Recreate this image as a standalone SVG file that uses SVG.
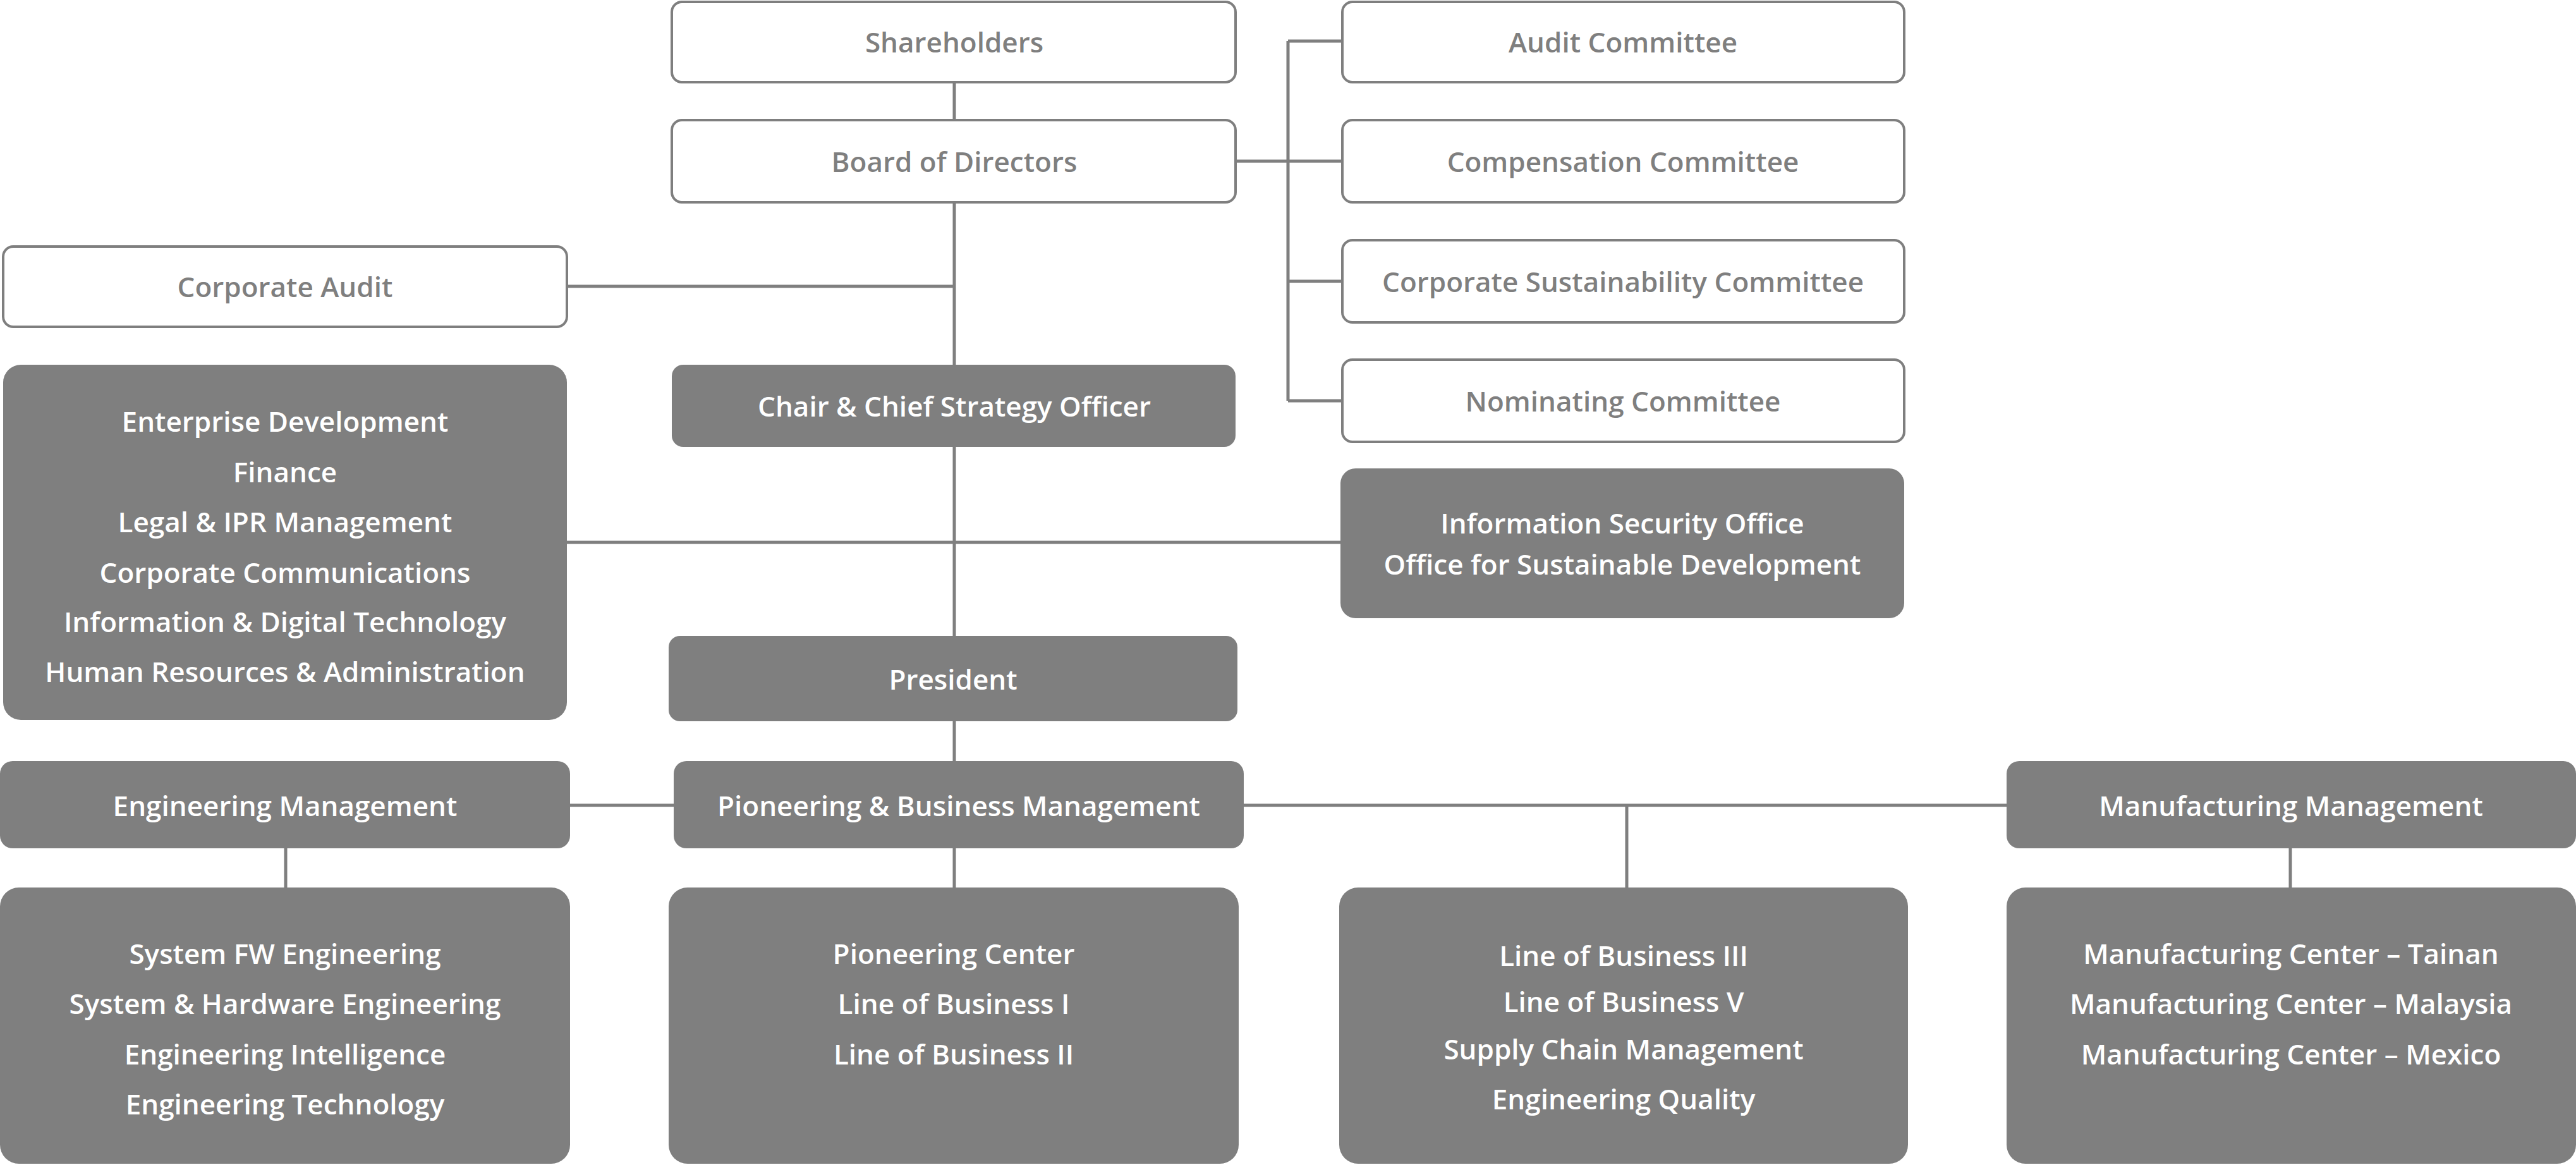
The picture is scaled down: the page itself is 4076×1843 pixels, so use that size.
<svg xmlns="http://www.w3.org/2000/svg" width="4076" height="1843" viewBox="0 0 4076 1843">
<style>
.w{fill:#fff;stroke:#7f7f7f;stroke-width:4}
.g{fill:#7f7f7f;stroke:none}
text{font-family:"Open Sans","Liberation Sans",sans-serif;font-weight:600;font-size:44px;text-anchor:middle;dominant-baseline:central}
.tw{fill:#7f7f7f}
.tg{fill:#fff}
.c{stroke:#7f7f7f;stroke-width:5;fill:none}
</style>
<rect width="4076" height="1843" fill="#fff"/>
<g id="connectors">
<path class="c" d="M1510 130V190M1510 320V577M897 453H1510M1510 707V1006M897 858H2121M1955 255H2038M2038 65V634M2038 65H2124M2038 255H2124M2038 445H2124M2038 634H2124M1510 1141V1204M902 1274H1066M1968 1274H3175M452 1342V1404M1510 1342V1404M2574 1274V1404M3624 1342V1404"/>
</g>
<g id="shareholders"><rect class="w" x="1063" y="3" width="892" height="127" rx="16"/><text class="tw" x="1510" y="66">Shareholders</text></g>
<g id="board"><rect class="w" x="1063" y="190" width="892" height="130" rx="16"/><text class="tw" x="1510" y="255">Board of Directors</text></g>
<g id="audit-committee"><rect class="w" x="2124" y="3" width="889" height="127" rx="16"/><text class="tw" x="2568" y="66">Audit Committee</text></g>
<g id="comp-committee"><rect class="w" x="2124" y="190" width="889" height="130" rx="16"/><text class="tw" x="2568" y="255">Compensation Committee</text></g>
<g id="csc"><rect class="w" x="2124" y="380" width="889" height="130" rx="16"/><text class="tw" x="2568" y="445">Corporate Sustainability Committee</text></g>
<g id="nominating"><rect class="w" x="2124" y="569" width="889" height="130" rx="16"/><text class="tw" x="2568" y="634">Nominating Committee</text></g>
<g id="corporate-audit"><rect class="w" x="5" y="390" width="892" height="127" rx="16"/><text class="tw" x="451" y="453">Corporate Audit</text></g>
<g id="chair"><rect class="g" x="1063" y="577" width="892" height="130" rx="18"/><text class="tg" x="1510" y="642">Chair &amp; Chief Strategy Officer</text></g>
<g id="functions"><rect class="g" x="5" y="577" width="892" height="562" rx="28"/>
<text class="tg" x="451" y="666">Enterprise Development</text>
<text class="tg" x="451" y="746">Finance</text>
<text class="tg" x="451" y="825">Legal &amp; IPR Management</text>
<text class="tg" x="451" y="905">Corporate Communications</text>
<text class="tg" x="451" y="983">Information &amp; Digital Technology</text>
<text class="tg" x="451" y="1062">Human Resources &amp; Administration</text></g>
<g id="infosec"><rect class="g" x="2121" y="741" width="892" height="237" rx="24"/>
<text class="tg" x="2567" y="827">Information Security Office</text>
<text class="tg" x="2567" y="892">Office for Sustainable Development</text></g>
<g id="president"><rect class="g" x="1058" y="1006" width="900" height="135" rx="18"/><text class="tg" x="1508" y="1074">President</text></g>
<g id="eng-mgmt"><rect class="g" x="0" y="1204" width="902" height="138" rx="20"/><text class="tg" x="451" y="1274">Engineering Management</text></g>
<g id="pio-mgmt"><rect class="g" x="1066" y="1204" width="902" height="138" rx="20"/><text class="tg" x="1517" y="1274">Pioneering &amp; Business Management</text></g>
<g id="mfg-mgmt"><rect class="g" x="3175" y="1204" width="901" height="138" rx="20"/><text class="tg" x="3625" y="1274">Manufacturing Management</text></g>
<g id="eng-units"><rect class="g" x="0" y="1404" width="902" height="437" rx="30"/>
<text class="tg" x="451" y="1508">System FW Engineering</text>
<text class="tg" x="451" y="1587">System &amp; Hardware Engineering</text>
<text class="tg" x="451" y="1667">Engineering Intelligence</text>
<text class="tg" x="451" y="1746">Engineering Technology</text></g>
<g id="pio-units"><rect class="g" x="1058" y="1404" width="902" height="437" rx="30"/>
<text class="tg" x="1509" y="1508">Pioneering Center</text>
<text class="tg" x="1509" y="1587">Line of Business I</text>
<text class="tg" x="1509" y="1667">Line of Business II</text></g>
<g id="lob-units"><rect class="g" x="2119" y="1404" width="900" height="437" rx="30"/>
<text class="tg" x="2569" y="1511">Line of Business III</text>
<text class="tg" x="2569" y="1584">Line of Business V</text>
<text class="tg" x="2569" y="1659">Supply Chain Management</text>
<text class="tg" x="2569" y="1738">Engineering Quality</text></g>
<g id="mfg-units"><rect class="g" x="3175" y="1404" width="901" height="437" rx="30"/>
<text class="tg" x="3625" y="1508">Manufacturing Center – Tainan</text>
<text class="tg" x="3625" y="1587">Manufacturing Center – Malaysia</text>
<text class="tg" x="3625" y="1667">Manufacturing Center – Mexico</text></g>
</svg>
